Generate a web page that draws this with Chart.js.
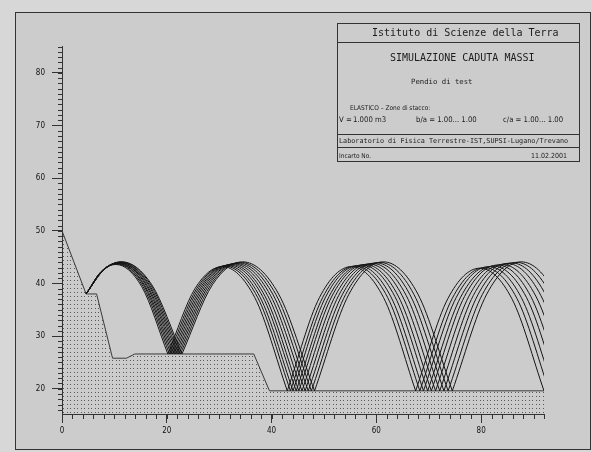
<!DOCTYPE html>
<html>
<head>
<meta charset="utf-8">
<script src="https://cdn.jsdelivr.net/npm/chart.js@4.4.1/dist/chart.umd.min.js"></script>
<style>
  html, body { margin: 0; padding: 0; }
  body { width: 592px; height: 452px; background: #d7d7d7; position: relative; overflow: hidden; }
  #panel { position: absolute; left: 15px; top: 12px; width: 576px; height: 438px; box-sizing: border-box;
           border: 1px solid #333; background: #cccccc; }
  #grafico { position: absolute; left: 0; top: 0; }
  #info { position: absolute; left: 337px; top: 23px; width: 243px; height: 139px; box-sizing: border-box;
          border: 1px solid #333; color: #1c1c1c; }
  #info div { position: absolute; white-space: pre; }
  #info .riga { left: 0; width: 100%; height: 1px; background: #333; }
  .mono { font-family: "DejaVu Sans Mono", monospace; }
  .cond { font-family: "DejaVu Sans Condensed", "Liberation Sans Narrow", "DejaVu Sans", sans-serif; }
</style>
</head>
<body>
<div id="panel"></div>
<canvas id="grafico" width="592" height="452"></canvas>
<div id="info">
  <div class="mono" style="left:34px; top:3px; font-size:10px; line-height:12px;">Istituto di Scienze della Terra</div>
  <div class="riga" style="top:18px;"></div>
  <div class="mono" style="left:52px; top:28px; font-size:10px; line-height:12px;">SIMULAZIONE CADUTA MASSI</div>
  <div class="mono" style="left:73px; top:53px; font-size:7.3px; line-height:10px;">Pendio di test</div>
  <div class="cond" style="left:12px; top:80px; font-size:6.5px; line-height:8px;">ELASTICO – Zone di stacco:</div>
  <div class="cond" style="left:1px; top:91px; font-size:7.7px; line-height:10px;">V =</div>
  <div class="cond" style="left:15px; top:91px; font-size:7.7px; line-height:10px;">1.000 m3</div>
  <div class="cond" style="left:78px; top:91px; font-size:7.7px; line-height:10px;">b/a = 1.00... 1.00</div>
  <div class="cond" style="left:165px; top:91px; font-size:7.7px; line-height:10px;">c/a = 1.00... 1.00</div>
  <div class="riga" style="top:110px;"></div>
  <div class="mono" style="left:1px; top:112px; font-size:6.8px; line-height:10px;">Laboratorio di Fisica Terrestre-IST,SUPSI-Lugano/Trevano</div>
  <div class="riga" style="top:123px;"></div>
  <div class="cond" style="left:1px; top:127px; font-size:6.5px; line-height:10px;">Incarto No.</div>
  <div class="cond" style="right:12px; top:127px; font-size:7px; line-height:10px;">11.02.2001</div>
</div>
<script>
// assi
const xTicks = [0, 20, 40, 60, 80];
const yTicks = [20, 30, 40, 50, 60, 70, 80];

// profilo del pendio
const groundX = [0, 4.6, 6.6, 9.65, 12.3, 13.9, 36.6, 39.6, 92];
const groundY = [50, 38, 38, 25.8, 25.8, 26.6, 26.6, 19.6, 19.6];

// traiettorie: un array per ogni rimbalzo, una riga per ogni masso
const bounce1X = [
  [4.6, 7.44, 10.29, 15.24, 20.2],
  [4.6, 7.51, 10.42, 15.46, 20.5],
  [4.6, 7.58, 10.55, 15.68, 20.8],
  [4.6, 7.63, 10.66, 15.88, 21.1],
  [4.6, 7.70, 10.79, 16.10, 21.4],
  [4.6, 7.75, 10.90, 16.30, 21.7],
  [4.6, 7.82, 11.04, 16.52, 22.0],
  [4.6, 7.88, 11.15, 16.73, 22.3],
  [4.6, 7.94, 11.28, 16.94, 22.6],
  [4.6, 8.00, 11.39, 17.15, 22.9]
];
const bounce1Y = [
  [38, 42.2, 43.6, 39.35, 26.6],
  [38, 42.28, 43.7, 39.43, 26.6],
  [38, 42.35, 43.8, 39.5, 26.6],
  [38, 42.35, 43.8, 39.5, 26.6],
  [38, 42.43, 43.9, 39.58, 26.6],
  [38, 42.43, 43.9, 39.58, 26.6],
  [38, 42.5, 44.0, 39.65, 26.6],
  [38, 42.5, 44.0, 39.65, 26.6],
  [38, 42.58, 44.1, 39.73, 26.6],
  [38, 42.58, 44.1, 39.73, 26.6]
];
const bounce2X = [
  [20.2, 25.4, 30.6, 36.8, 43.0],
  [20.5, 25.77, 31.04, 37.32, 43.6],
  [20.8, 26.12, 31.44, 37.77, 44.1],
  [21.1, 26.49, 31.88, 38.29, 44.7],
  [21.4, 26.84, 32.28, 38.74, 45.2],
  [21.7, 27.21, 32.72, 39.26, 45.8],
  [22.0, 27.58, 33.16, 39.78, 46.4],
  [22.3, 27.95, 33.6, 40.3, 47.0],
  [22.6, 28.33, 34.05, 40.83, 47.6],
  [22.9, 28.7, 34.49, 41.35, 48.2]
];
const bounce2Y = [
  [26.6, 39.05, 43.2, 37.3, 19.6],
  [26.6, 39.13, 43.3, 37.38, 19.6],
  [26.6, 39.2, 43.4, 37.45, 19.6],
  [26.6, 39.28, 43.5, 37.53, 19.6],
  [26.6, 39.35, 43.6, 37.6, 19.6],
  [26.6, 39.43, 43.7, 37.68, 19.6],
  [26.6, 39.5, 43.8, 37.75, 19.6],
  [26.6, 39.58, 43.9, 37.83, 19.6],
  [26.6, 39.65, 44.0, 37.9, 19.6],
  [26.6, 39.73, 44.1, 37.98, 19.6]
];
const bounce3X = [
  [43.0, 49.13, 55.25, 61.38, 67.5],
  [43.6, 49.78, 55.95, 62.13, 68.3],
  [44.1, 50.33, 56.55, 62.78, 69.0],
  [44.7, 50.98, 57.25, 63.53, 69.8],
  [45.2, 51.53, 57.85, 64.18, 70.5],
  [45.8, 52.18, 58.55, 64.93, 71.3],
  [46.4, 52.83, 59.25, 65.68, 72.1],
  [47.0, 53.48, 59.95, 66.43, 72.9],
  [47.6, 54.13, 60.65, 67.18, 73.7],
  [48.2, 54.78, 61.35, 67.93, 74.5]
];
const bounce3Y = [
  [19.6, 37.3, 43.2, 37.3, 19.6],
  [19.6, 37.38, 43.3, 37.38, 19.6],
  [19.6, 37.45, 43.4, 37.45, 19.6],
  [19.6, 37.53, 43.5, 37.53, 19.6],
  [19.6, 37.6, 43.6, 37.6, 19.6],
  [19.6, 37.68, 43.7, 37.68, 19.6],
  [19.6, 37.75, 43.8, 37.75, 19.6],
  [19.6, 37.83, 43.9, 37.83, 19.6],
  [19.6, 37.9, 44.0, 37.9, 19.6],
  [19.6, 37.98, 44.1, 37.98, 19.6]
];
const bounce4X = [
  [67.5, 73.63, 79.75, 85.88, 92.0],
  [68.3, 74.48, 80.65, 86.83, 93.0],
  [69.0, 75.23, 81.45, 87.68, 93.9],
  [69.8, 76.08, 82.35, 88.63, 94.9],
  [70.5, 76.83, 83.15, 89.48, 95.8],
  [71.3, 77.68, 84.05, 90.43, 96.8],
  [72.1, 78.53, 84.95, 91.38, 97.8],
  [72.9, 79.38, 85.85, 92.33, 98.8],
  [73.7, 80.23, 86.75, 93.28, 99.8],
  [74.5, 81.08, 87.65, 94.23, 100.8]
];
const bounce4Y = [
  [19.6, 37.08, 42.9, 37.08, 19.6],
  [19.6, 37.15, 43.0, 37.15, 19.6],
  [19.6, 37.3, 43.2, 37.3, 19.6],
  [19.6, 37.38, 43.3, 37.38, 19.6],
  [19.6, 37.53, 43.5, 37.53, 19.6],
  [19.6, 37.6, 43.6, 37.6, 19.6],
  [19.6, 37.75, 43.8, 37.75, 19.6],
  [19.6, 37.83, 43.9, 37.83, 19.6],
  [19.6, 37.9, 44.0, 37.9, 19.6],
  [19.6, 37.98, 44.1, 37.98, 19.6]
];

// retino a puntini per il terreno
function makeDots() {
  const c = document.createElement("canvas");
  c.width = 7; c.height = 4;
  const g = c.getContext("2d");
  g.fillStyle = "#585858";
  g.fillRect(0, 0, 1, 1);
  g.fillRect(4, 0, 1, 1);
  return document.getElementById("grafico").getContext("2d").createPattern(c, "repeat");
}

const datasets = [];
[[bounce1X, bounce1Y], [bounce2X, bounce2Y], [bounce3X, bounce3Y], [bounce4X, bounce4Y]].forEach(([bx, by]) => {
  bx.forEach((xs, i) => {
    datasets.push({
      data: xs.map((v, k) => ({ x: v, y: by[i][k] })),
      borderColor: "#141414",
      borderWidth: 1,
      pointRadius: 0,
      cubicInterpolationMode: "monotone",
      fill: false,
      order: 0
    });
  });
});
datasets.push({
  data: groundX.map((v, k) => ({ x: v, y: groundY[k] })),
  borderColor: "#3a3a3a",
  borderWidth: 1,
  backgroundColor: makeDots(),
  fill: "start",
  pointRadius: 0,
  tension: 0,
  order: 1
});

// tacche secondarie
const minorTicks = {
  id: "minorTicks",
  afterDraw(chart) {
    const { ctx, scales: { x, y } } = chart;
    ctx.save();
    ctx.strokeStyle = "#333";
    ctx.lineWidth = 1;
    ctx.beginPath();
    for (let v = 0; v <= 92; v += 2) {
      const px = Math.round(x.getPixelForValue(v)) + 0.5;
      ctx.moveTo(px, x.top);
      ctx.lineTo(px, x.top + 5);
    }
    for (let v = 16; v <= 85; v++) {
      const py = Math.round(y.getPixelForValue(v)) + 0.5;
      ctx.moveTo(y.right - 4, py);
      ctx.lineTo(y.right, py);
    }
    ctx.stroke();
    ctx.restore();
  }
};

const tickFont = { family: "'DejaVu Sans Condensed', 'DejaVu Sans', sans-serif", size: 8 };

new Chart(document.getElementById("grafico"), {
  type: "line",
  data: { datasets: datasets },
  options: {
    responsive: false,
    animation: false,
    devicePixelRatio: 1,
    layout: { padding: { left: 20, right: 48, top: 46, bottom: 8 } },
    plugins: { legend: { display: false }, tooltip: { enabled: false } },
    scales: {
      x: {
        type: "linear",
        min: 0,
        max: 92,
        afterBuildTicks: s => { s.ticks = xTicks.map(v => ({ value: v })); },
        afterFit: s => { s.height = 30; },
        grid: { drawOnChartArea: false, drawTicks: true, tickLength: 9, tickColor: "#333" },
        border: { display: true, color: "#333", width: 1 },
        ticks: { font: tickFont, color: "#111", padding: 3, maxRotation: 0, autoSkip: false }
      },
      y: {
        type: "linear",
        min: 15.2,
        max: 85.1,
        afterBuildTicks: s => { s.ticks = yTicks.map(v => ({ value: v })); },
        afterFit: s => { s.width = 42; },
        grid: { drawOnChartArea: false, drawTicks: true, tickLength: 10, tickColor: "#333" },
        border: { display: true, color: "#333", width: 1 },
        ticks: { font: tickFont, color: "#111", padding: 7, autoSkip: false }
      }
    }
  },
  plugins: [minorTicks]
});
</script>
</body>
</html>
